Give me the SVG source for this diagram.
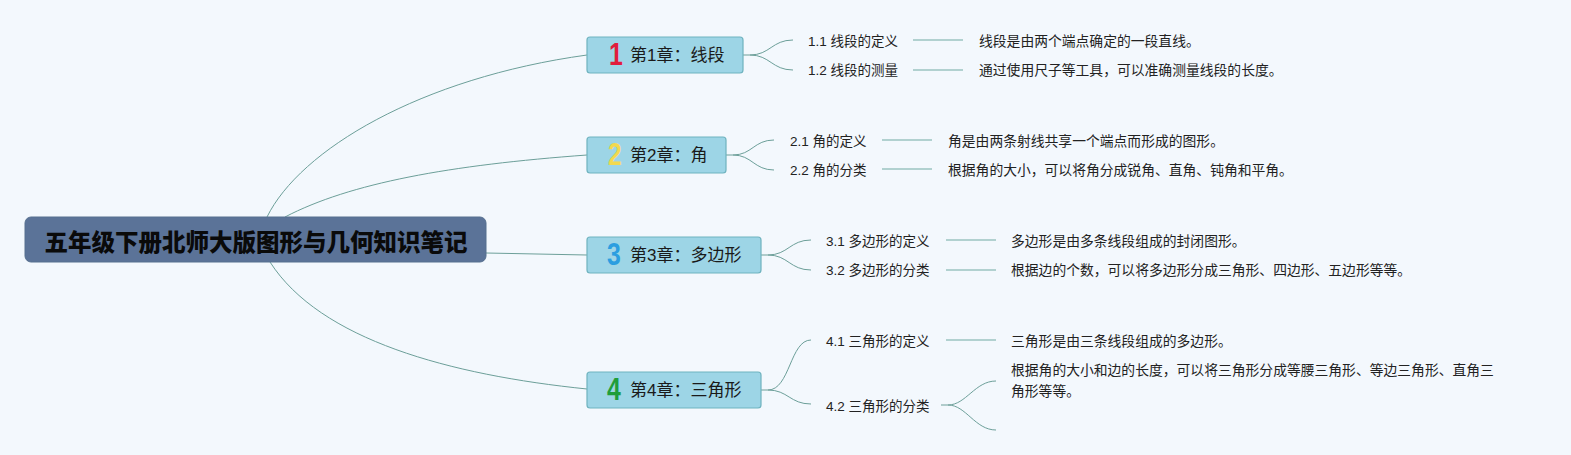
<svg xmlns="http://www.w3.org/2000/svg" width="1571" height="455" viewBox="0 0 1571 455">
<style>
.bg{fill:#f3f8fd}
.root{fill:#5b7398;stroke:#56708f;stroke-width:1}
.roottxt{font-family:"Noto Sans CJK SC","Liberation Sans",sans-serif;font-size:23.5px;font-weight:900;fill:#0a0a0a}
.ch{fill:#9dd5e6;stroke:#6fb3bf;stroke-width:1.2}
.chtxt{font-family:"Liberation Sans","Noto Sans CJK SC",sans-serif;font-size:17px;fill:#1a1a1a}
.num{font-family:"Liberation Sans","DejaVu Sans",sans-serif;font-size:31px;font-weight:bold}
.sub{font-family:"Liberation Sans","Noto Sans CJK SC",sans-serif;font-size:13.5px;fill:#222}
.desc{font-family:"Liberation Sans","Noto Sans CJK SC",sans-serif;font-size:13.8px;fill:#222}
.c{fill:none;stroke:#6c9f99;stroke-width:1}
.l{fill:none;stroke:#9bc4c0;stroke-width:1.5}
</style>
<rect class="bg" x="0" y="0" width="1571" height="455"/>
<g id="connectors">
<path class="c" d="M267,217 C300,150 420,78 587,55"/>
<path class="c" d="M285,217 C350,183 450,165 587,155"/>
<path class="c" d="M486,253 L587,255"/>
<path class="c" d="M270,262 C320,340 450,375 587,389"/>
<path class="c" d="M743,55 L750,55 C770,55 772,40 793,40"/>
<path class="c" d="M750,55 C770,55 772,70 793,70"/>
<path class="c" d="M726,155 L733,155 C752,155 754,140 774,140"/>
<path class="c" d="M733,155 C752,155 754,170 774,170"/>
<path class="c" d="M761,255 L768,255 C788,255 790,240 811,240"/>
<path class="c" d="M768,255 C788,255 790,270 811,270"/>
<path class="c" d="M761,390 L768,390 C790,390 790,340 811,340"/>
<path class="c" d="M768,390 C788,390 790,404 811,404"/>
<path class="c" d="M941,405 L948,405 C966,405 975,381 996,381"/>
<path class="c" d="M948,405 C966,405 975,430 996,430"/>
<line class="l" x1="913" y1="40" x2="963" y2="40"/>
<line class="l" x1="913" y1="70" x2="963" y2="70"/>
<line class="l" x1="882" y1="140" x2="932" y2="140"/>
<line class="l" x1="882" y1="169" x2="932" y2="169"/>
<line class="l" x1="946" y1="240" x2="996" y2="240"/>
<line class="l" x1="946" y1="270" x2="996" y2="270"/>
<line class="l" x1="946" y1="340" x2="996" y2="340"/>
</g>
<g id="root">
<rect class="root" x="25" y="217" width="461" height="45" rx="6"/>
<text class="roottxt" x="256" y="241" text-anchor="middle" dominant-baseline="central">五年级下册北师大版图形与几何知识笔记</text>
</g>
<g id="ch1">
<rect class="ch" x="587" y="37" width="156" height="36" rx="3"/>
<text class="num" x="616" y="55" text-anchor="middle" dominant-baseline="central" fill="#e11d3c" transform="translate(616 0) scale(0.8 1) translate(-616 0)">1</text>
<text class="chtxt" x="630" y="55" dominant-baseline="central">第1章：线段</text>
</g>
<g id="ch2">
<rect class="ch" x="587" y="137" width="139" height="36" rx="3"/>
<text class="num" x="615" y="155" text-anchor="middle" dominant-baseline="central" fill="#f2d94e" transform="translate(615 0) scale(0.8 1) translate(-615 0)">2</text>
<text class="chtxt" x="630" y="155" dominant-baseline="central">第2章：角</text>
</g>
<g id="ch3">
<rect class="ch" x="587" y="237" width="174" height="36" rx="3"/>
<text class="num" x="614" y="255" text-anchor="middle" dominant-baseline="central" fill="#2b9ee0" transform="translate(614 0) scale(0.8 1) translate(-614 0)">3</text>
<text class="chtxt" x="630" y="255" dominant-baseline="central">第3章：多边形</text>
</g>
<g id="ch4">
<rect class="ch" x="587" y="372" width="174" height="36" rx="3"/>
<text class="num" x="614" y="390" text-anchor="middle" dominant-baseline="central" fill="#1f9e3b" transform="translate(614 0) scale(0.8 1) translate(-614 0)">4</text>
<text class="chtxt" x="630" y="390" dominant-baseline="central">第4章：三角形</text>
</g>
<g id="s11"><text class="sub" x="808" y="41" dominant-baseline="central">1.1 线段的定义</text></g>
<g id="s12"><text class="sub" x="808" y="70" dominant-baseline="central">1.2 线段的测量</text></g>
<g id="d11"><text class="desc" x="979" y="41" dominant-baseline="central">线段是由两个端点确定的一段直线。</text></g>
<g id="d12"><text class="desc" x="979" y="70" dominant-baseline="central">通过使用尺子等工具，可以准确测量线段的长度。</text></g>
<g id="s21"><text class="sub" x="790" y="141" dominant-baseline="central">2.1 角的定义</text></g>
<g id="s22"><text class="sub" x="790" y="170" dominant-baseline="central">2.2 角的分类</text></g>
<g id="d21"><text class="desc" x="948" y="141" dominant-baseline="central">角是由两条射线共享一个端点而形成的图形。</text></g>
<g id="d22"><text class="desc" x="948" y="170" dominant-baseline="central">根据角的大小，可以将角分成锐角、直角、钝角和平角。</text></g>
<g id="s31"><text class="sub" x="826" y="241" dominant-baseline="central">3.1 多边形的定义</text></g>
<g id="s32"><text class="sub" x="826" y="270" dominant-baseline="central">3.2 多边形的分类</text></g>
<g id="d31"><text class="desc" x="1011" y="241" dominant-baseline="central">多边形是由多条线段组成的封闭图形。</text></g>
<g id="d32"><text class="desc" x="1011" y="270" dominant-baseline="central">根据边的个数，可以将多边形分成三角形、四边形、五边形等等。</text></g>
<g id="s41"><text class="sub" x="826" y="341" dominant-baseline="central">4.1 三角形的定义</text></g>
<g id="s42"><text class="sub" x="826" y="406" dominant-baseline="central">4.2 三角形的分类</text></g>
<g id="d41"><text class="desc" x="1011" y="341" dominant-baseline="central">三角形是由三条线段组成的多边形。</text></g>
<g id="d42"><text class="desc" x="1011" y="370" dominant-baseline="central">根据角的大小和边的长度，可以将三角形分成等腰三角形、等边三角形、直角三<tspan x="1011" y="391">角形等等。</tspan></text></g>
</svg>
